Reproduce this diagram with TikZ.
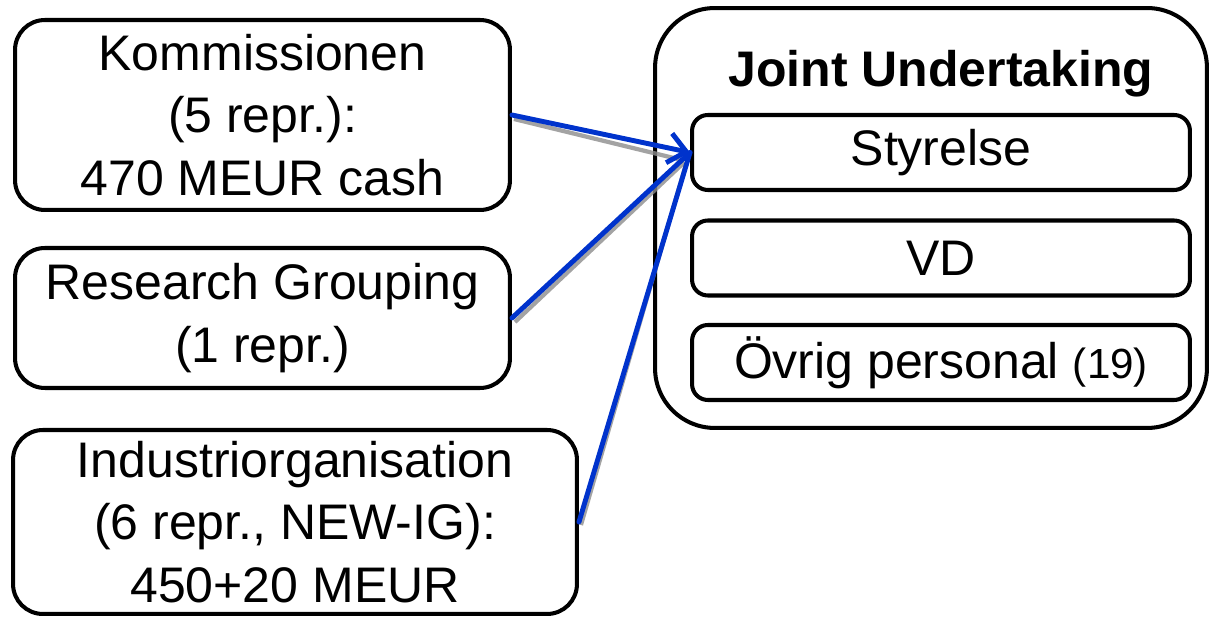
\documentclass[tikz,border=0pt]{standalone}
\usepackage{fontspec}
\setmainfont{Liberation Sans}
\usetikzlibrary{arrows.meta}
\definecolor{arrowblue}{RGB}{0,51,204}
\tikzset{
  box/.style={draw, line width=2.3pt, rounded corners=17pt, align=center,
    inner sep=0pt, font=\fontsize{28.45}{35.5}\selectfont},
  innerbox/.style={box, rounded corners=9pt, minimum width=9.96cm, minimum height=1.5cm},
  outerbox/.style={draw, line width=2.3pt, rounded corners=34pt},
  link/.style={draw=arrowblue, line width=2.8pt, line cap=round},
  linkshadow/.style={draw=black!45, line width=2.4pt, opacity=0.8},
  tip/.style={-{Straight Barb[length=10pt,width=17pt,line width=2.8pt]}}
}
\begin{document}
\begin{tikzpicture}[x=0.02cm, y=-0.02cm]
  \useasboundingbox (0,0) rectangle (1211,617);

  % contributing members
  \node[box, minimum width=9.9cm, minimum height=3.8cm] (kom) at (262.5,115)
    {Kommissionen\\(5 repr.):\\470 MEUR cash};
  \node[box, minimum width=9.9cm, minimum height=2.8cm] (res) at (262.5,318)
    {Research Grouping\\(1 repr.)};
  \node[box, minimum width=11.28cm, minimum height=3.68cm] (ind) at (295,522)
    {Industriorganisation\\(6 repr., NEW-IG):\\450+20 MEUR};

  % the joint undertaking and its bodies
  \node[outerbox, minimum width=11.04cm, minimum height=8.4cm] (ju) at (931,218) {};
  \node[font=\fontsize{28.45}{35.5}\selectfont\bfseries] (title) at (941,74) {Joint Undertaking};
  \node[innerbox] (sty) at (941,152.5) {Styrelse};
  \node[innerbox] (vd) at (941,258) {VD};
  \node[innerbox] (ovr) at (941,362.5)
    {Övrig personal {\fontsize{24}{30}\selectfont(19)}};

  % shadows under the connectors
  \draw[linkshadow] ([shift={(2,4)}]kom.east) -- ([shift={(-6,8)}]sty.west);
  \draw[linkshadow] ([shift={(3,4)}]res.east) -- ([shift={(-6,10)}]sty.west);
  \draw[linkshadow] ([shift={(2,3)}]ind.east) -- ([shift={(-3,8)}]sty.west);

  % connectors
  \draw[link] (ind.east) -- (sty.west);
  \draw[link] (res.east) -- (sty.west);
  \draw[link, tip] (kom.east) -- (sty.west);
\end{tikzpicture}
\end{document}
